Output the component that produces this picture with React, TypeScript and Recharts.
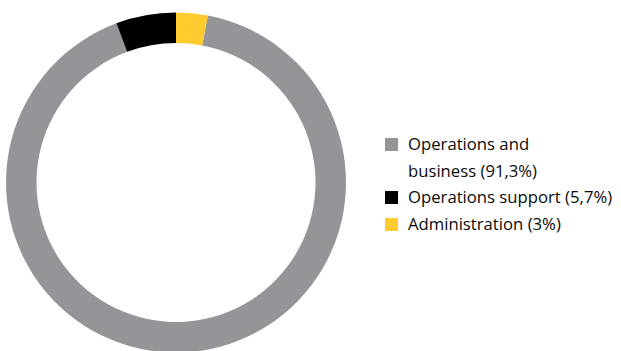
import { Cell, Legend, Pie, PieChart } from "recharts";

// Osuudet prosentteina, järjestyksessä myötäpäivään
const NIMET = ["Operations and\nbusiness", "Operations support", "Administration"];
const OSUUDET = [91.3, 5.7, 3];
const VARIT = ["#939598", "#000000", "#FFCB2F"];

const LEVEYS = 621;
const KORKEUS = 351;

const dataa = NIMET.map((nimi, i) => ({ nimi, arvo: OSUUDET[i] }));

function muotoile(arvo: number): string {
  return String(arvo).replace(".", ",") + "%";
}

function Selite() {
  return (
    <ul style={{ listStyle: "none", margin: 0, padding: 0 }}>
      {dataa.map((rivi, i) => (
        <li
          key={rivi.nimi}
          style={{ display: "flex", alignItems: "flex-start", marginBottom: 0 }}
        >
          <span
            style={{
              width: 13,
              height: 13,
              background: VARIT[i],
              marginTop: 7,
              marginRight: 10,
              flexShrink: 0,
            }}
          />
          <span style={{ whiteSpace: "pre-line", lineHeight: "26.7px" }}>
            {`${rivi.nimi} (${muotoile(rivi.arvo)})`}
          </span>
        </li>
      ))}
    </ul>
  );
}

export default function App() {
  return (
    <div
      style={{
        position: "absolute",
        left: 0,
        top: 0,
        width: LEVEYS,
        height: KORKEUS,
        background: "#fff",
        fontFamily: "'Open Sans', sans-serif",
        fontSize: 16.7,
        color: "#0a0a0a",
      }}
    >
      <PieChart
        width={LEVEYS}
        height={KORKEUS}
        margin={{ top: 0, right: 0, bottom: 0, left: 0 }}
      >
        {/* Alkaa hieman klo 12 oikealta puolelta: hallinnon pala jää ylös */}
        <Pie
          data={dataa}
          dataKey="arvo"
          nameKey="nimi"
          cx={176}
          cy={182.5}
          innerRadius={139.5}
          outerRadius={170}
          startAngle={90 - 3 * 3.6}
          endAngle={90 - 3 * 3.6 - 360}
          stroke="none"
          isAnimationActive={false}
        >
          {dataa.map((rivi, i) => (
            <Cell key={rivi.nimi} fill={VARIT[i]} />
          ))}
        </Pie>
        <Legend
          layout="vertical"
          content={<Selite />}
          wrapperStyle={{ left: 385, top: 131, width: 236 }}
        />
      </PieChart>
    </div>
  );
}
